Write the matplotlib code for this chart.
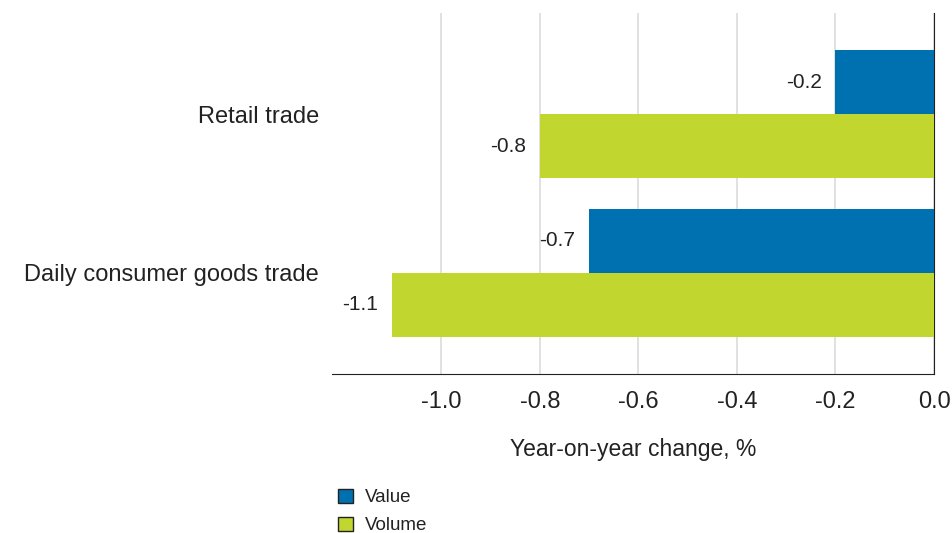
import numpy as np
import matplotlib.pyplot as plt
from matplotlib.patches import Patch

plt.rcParams['font.family'] = ['Liberation Sans', 'DejaVu Sans']

# Dados
categories = ['Retail trade', 'Daily consumer goods trade']
value = [-0.2, -0.7]
volume = [-0.8, -1.1]
series_names = ['Value', 'Volume']
colors = ['#0071b0', '#c1d72f']
xticks = [-1.0, -0.8, -0.6, -0.4, -0.2, 0.0]

fig = plt.figure(figsize=(9.52, 5.33), dpi=100)
ax = fig.add_axes([0.3487, 0.2974, 0.6324, 0.6776])

pos = np.arange(len(categories))
h = 0.405
ax.barh(pos - h / 2, value, height=h, color=colors[0], zorder=3)
ax.barh(pos + h / 2, volume, height=h, color=colors[1], zorder=3)

# Rótulos dos valores
for i in range(len(categories)):
    ax.annotate(f"{value[i]:.1f}", (value[i], pos[i] - h / 2), xytext=(-10, 0),
                textcoords='offset points', ha='right', va='center', fontsize=15, color='#222222')
    ax.annotate(f"{volume[i]:.1f}", (volume[i], pos[i] + h / 2), xytext=(-10, 0),
                textcoords='offset points', ha='right', va='center', fontsize=15, color='#222222')

ax.set_xlim(-1.222, 0.0)
ax.set_ylim(1.645, -0.64)
ax.set_xticks(xticks)
ax.set_xticklabels([f"{t:.1f}" for t in xticks])
ax.set_yticks(pos)
ax.set_yticklabels(categories)
ax.tick_params(axis='both', length=0, colors='#222222')
ax.tick_params(axis='y', pad=9.5, labelsize=17)
ax.tick_params(axis='x', pad=12, labelsize=17)
ax.xaxis.grid(True, color='#dcdcdc', linewidth=1.2, zorder=0)

for s in ['top', 'left']:
    ax.spines[s].set_visible(False)
ax.spines['bottom'].set_color('#222222')
ax.spines['right'].set_color('#222222')

ax.set_xlabel('Year-on-year change, %', fontsize=16.5, color='#222222', labelpad=18)

handles = [Patch(facecolor=c, edgecolor='#222222', linewidth=1) for c in colors]
fig.legend(handles, series_names, loc='upper left', bbox_to_anchor=(0.355, 0.083),
           frameon=False, fontsize=13.5, handlelength=0.8, handleheight=0.8,
           handletextpad=0.65, labelspacing=0.55, borderaxespad=0, borderpad=0,
           labelcolor='#222222')

fig.savefig('out.png', dpi=100)
